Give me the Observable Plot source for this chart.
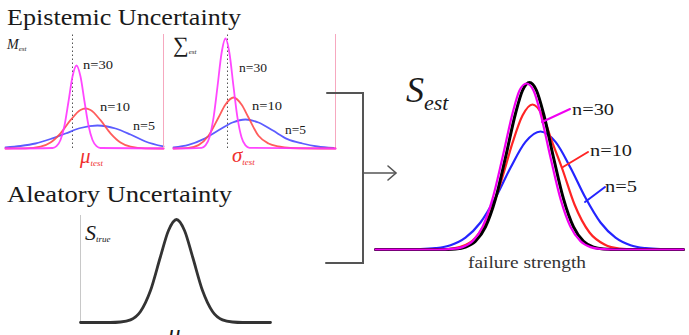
<!DOCTYPE html>
<html><head><meta charset="utf-8">
<script src="https://cdn.jsdelivr.net/npm/d3@7"></script>
<script src="https://cdn.jsdelivr.net/npm/@observablehq/plot@0.6"></script>
<style>
body{margin:0;background:#fff;}
#wrap{position:relative;width:689px;height:335px;overflow:hidden;}
#wrap svg{position:absolute;left:0;top:0;}
#wrap .lbl{position:absolute;line-height:1;white-space:nowrap;font-family:'Liberation Serif','Times New Roman',serif !important;color:#1a1a1a;transform-origin:0 0;}
#wrap .lbl *{font-family:'Liberation Serif','Times New Roman',serif !important;}
#wrap .lbl i{font-style:italic;}
#wrap .lbl .sub{position:relative;font-style:italic;}
</style></head><body><div id="wrap"></div>
<script>
// ---- Panel A: M_est (x = offset from mu_test, y = density, arbitrary units)
const mestN30X = [-67,-20,-16,-12,-8,-4,0,4,8,12,16,20,24,28,91];
const mestN30Y = [0,0.5,2.4,8.5,23,47,72,83,72,47,23,8.5,2.4,0.5,0];
const mestN10X = [-67,-47,-32,-22,-12,-2,8,13,18,28,38,48,58,73,91];
const mestN10Y = [0,0.15,1.8,6,15.2,28.3,38.5,40,38.5,28.3,15.2,6,1.8,0.15,0];
const mestN5X  = [-67,-52,-37,-22,-7,8,25,43,58,73,91];
const mestN5Y  = [1,2.5,5,9.5,15,20.5,23,20,14,7,2];

// ---- Panel B: Sigma_est (x = offset from sigma_test)
const sestN30X = [-54,-26,-22,-18,-14,-10,-6,-2,2,6,10,14,18,22,108];
const sestN30Y = [0,0.7,3.1,11.3,30.6,62,95,110,95,62,30.6,11.3,3.1,0.7,0];
const sestN10X = [-54,-39,-29,-19,-9,-2,6,14,21,31,41,51,63,108];
const sestN10Y = [0,0.6,3.4,12.7,31,44,51,44,31,12.7,5,2,0.5,0];
const sestN5X  = [-54,-39,-24,-9,5,18,31,45,60,75,90,106];
const sestN5Y  = [1.1,3.6,9.4,18.2,26,29,26,18.2,9.4,5,2,0.5];

// ---- Panel C: S_true (x = offset from mu)
const strueX = [-96,-66,-56,-46,-36,-26,-16,-8,0,8,16,26,36,46,56,66,94];
const strueY = [0,0,0.5,2.6,11,32,66,92,103,92,66,32,11,2.6,0.5,0,0];

// ---- Panel D: S_est (x = failure strength offset from true mean)
const trueX = [-154,-89,-74,-64,-54,-44,-34,-24,-14,-7,0,7,14,24,34,44,54,64,74,89,154];
const trueY = [0,0,0.6,2.4,8.2,22.6,50.6,92,136,159,167,159,136,92,50.6,22.6,8.2,2.4,0.6,0,0];
const estN30X = [-154,-92,-77,-67,-57,-47,-37,-27,-17,-10,-3,4,11,21,31,41,51,61,71,86,154];
const estN30Y = [0,0,0.6,2.4,8.2,22.6,50.6,92,136,159,166,159,136,92,50.6,22.6,8.2,2.4,0.6,0,0];
const estN10X = [-154,-99,-84,-69,-54,-39,-27,-17,-7,3,13,23,33,45,60,75,90,111,154];
const estN10Y = [0,0,0.4,2.7,11.9,37.4,72.6,106.6,134,145,134,106.6,80,45,17,5,1,0,0];
const estN5X  = [-154,-129,-109,-94,-79,-64,-49,-34,-19,-4,11,26,41,56,71,86,101,116,131,154];
const estN5Y  = [0,0.04,0.3,1.3,4.3,11.9,27,51.7,81.8,107.6,118,107.6,81.8,51.7,27,11.9,4.3,1.3,0.3,0];

const pts = (xs, ys) => xs.map((x, i) => ({x, y: ys[i]}));
const wrap = document.getElementById("wrap");

function panel(xs, ys, marks) {
  return Plot.plot({
    width: 689, height: 335, margin: 0,
    style: {background: "transparent", overflow: "visible"},
    x: {domain: xs[0], range: xs[1], axis: null},
    y: {domain: ys[0], range: ys[1], axis: null},
    marks
  });
}
const L = (d, stroke, w, op=1) => Plot.line(d, {x: "x", y: "y", curve: "monotone-x", stroke, strokeWidth: w, strokeOpacity: op});

// Panel A
wrap.appendChild(panel([[-67, 91], [5, 163]], [[0, 114], [148, 34]], [
  Plot.ruleX([91], {y1: 0, y2: 114, stroke: "#f6a8bf", strokeWidth: 1}),
  Plot.ruleX([0], {y1: 0, y2: 114, stroke: "#555", strokeWidth: 1, strokeDasharray: "1.5,2.5"}),
  L(pts(mestN5X, mestN5Y), "#4a4aff", 1.8, 0.9),
  L(pts(mestN10X, mestN10Y), "#ff4a4a", 1.8, 0.9),
  L(pts(mestN30X, mestN30Y), "#ff33ff", 1.8, 0.9)
]));
// Panel B
wrap.appendChild(panel([[-64, 108], [163, 335]], [[0, 114], [148, 34]], [
  Plot.ruleX([-64, 108], {y1: 0, y2: 114, stroke: "#f6a8bf", strokeWidth: 1}),
  Plot.ruleX([0], {y1: 0, y2: 114, stroke: "#555", strokeWidth: 1, strokeDasharray: "1.5,2.5"}),
  L(pts(sestN5X, sestN5Y), "#4a4aff", 1.8, 0.9),
  L(pts(sestN10X, sestN10Y), "#ff4a4a", 1.8, 0.9),
  L(pts(sestN30X, sestN30Y), "#ff33ff", 1.8, 0.9)
]));
// Panel C
wrap.appendChild(panel([[-96, 94], [80, 270]], [[0, 107], [322, 215]], [
  Plot.ruleX([-96], {y1: 0, y2: 107, stroke: "#c8c8c8", strokeWidth: 1}),
  L(pts(strueX, strueY), "#333", 2.8)
]));
// Panel D
wrap.appendChild(panel([[-154, 154], [375, 683]], [[0, 167], [249, 82]], [
  L(pts(estN5X, estN5Y), "#2424ff", 2.2),
  L(pts(estN10X, estN10Y), "#ff2424", 2.2),
  L(pts(trueX, trueY), "#000", 3),
  L(pts(estN30X, estN30Y), "#f000f0", 2.2)
]));

// Annotation lines (bracket, arrow, leaders)
const ns = "http://www.w3.org/2000/svg";
const ov = document.createElementNS(ns, "svg");
ov.setAttribute("width", 689); ov.setAttribute("height", 335);
ov.innerHTML = `
<g fill="none" stroke-linecap="round">
  <polyline points="327,93 363,93 363,263 326,263" stroke="#555" stroke-width="2"/>
  <line x1="363" y1="173" x2="395" y2="173" stroke="#555" stroke-width="1.6"/>
  <polyline points="388,166 396,173 388,180" stroke="#555" stroke-width="1.6"/>
  <line x1="542" y1="122" x2="570" y2="109" stroke="#f000f0" stroke-width="2"/>
  <line x1="563" y1="167" x2="588" y2="152" stroke="#ff2424" stroke-width="2"/>
  <line x1="585" y1="202" x2="605" y2="187" stroke="#2424ff" stroke-width="2"/>
</g>`;
wrap.appendChild(ov);

// Text labels (HTML, baseline-positioned)
const SERIF = "'Liberation Serif','Times New Roman',serif";
const sub = (t, size, dy) => `<span class="sub" style="font-size:${size}px;top:${dy}px">${t}</span>`;
const labels = [
  {h: "Epistemic Uncertainty", x: 7, y: 25, s: 24, w: 234},
  {h: "Aleatory Uncertainty", x: 7, y: 202, s: 23, w: 225},
  {h: "<i>M</i>" + sub("est", 7, 2), x: 7, y: 50, s: 14},
  {h: "n=30", x: 83, y: 69, s: 13, w: 30},
  {h: "n=10", x: 100, y: 111, s: 13, w: 30},
  {h: "n=5", x: 133, y: 130, s: 13, w: 22},
  {h: "<i>μ</i>" + sub("test", 9, 3), x: 80, y: 164, s: 21, c: "#f03030"},
  {h: "∑" + sub("est", 7, 2), x: 173, y: 52, s: 22},
  {h: "n=30", x: 239, y: 72, s: 13, w: 28},
  {h: "n=10", x: 252, y: 110, s: 13, w: 30},
  {h: "n=5", x: 285, y: 134, s: 13, w: 21},
  {h: "<i>σ</i>" + sub("test", 9, 3), x: 232, y: 163, s: 21, c: "#f03030"},
  {h: "<i>S</i>" + sub("true", 9, 2), x: 85, y: 240, s: 22},
  {h: "<i>μ</i>", x: 168, y: 342, s: 25},
  {h: "<i>S</i>" + sub("est", 22, 8), x: 406, y: 102, s: 36},
  {h: "n=30", x: 572, y: 115, s: 17, w: 42},
  {h: "n=10", x: 590, y: 156, s: 17, w: 42},
  {h: "n=5", x: 605, y: 192, s: 17, w: 32},
  {h: "failure strength", x: 468, y: 268, s: 17, w: 118, c: "#333"}
];
for (const d of labels) {
  const el = document.createElement("div");
  el.className = "lbl";
  el.innerHTML = d.h;
  el.style.setProperty("font-family", SERIF, "important");
  el.querySelectorAll("*").forEach(c => c.style.setProperty("font-family", SERIF, "important"));
  el.style.left = d.x + "px";
  el.style.top = (d.y - 0.8375 * d.s) + "px";
  el.style.fontSize = d.s + "px";
  if (d.c) el.style.color = d.c;
  wrap.appendChild(el);
  if (d.w) el.style.transform = `scaleX(${d.w / el.getBoundingClientRect().width})`;
}
</script>
</body></html>
